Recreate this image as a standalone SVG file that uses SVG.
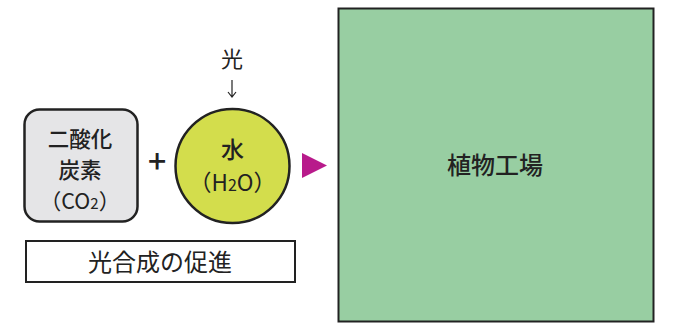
<svg xmlns="http://www.w3.org/2000/svg" width="680" height="323" viewBox="0 0 680 323">
<style>
text{font-family:"Noto Sans CJK JP","Noto Sans",sans-serif;fill:#222;text-anchor:middle}
.b{font-weight:500}
.box{stroke:#222;stroke-width:2.5}
</style>
<rect width="680" height="323" fill="#fff"/>
<g id="factory">
<rect x="338.5" y="8.5" width="315" height="313" fill="#98cea2" stroke="#222" stroke-width="2"/>
<text x="495" y="174" font-size="24" class="b">植物工場</text>
</g>
<g id="co2">
<rect x="24.5" y="109.5" width="113" height="112" rx="15" fill="#e5e5e7" class="box"/>
<text x="80" y="147" font-size="21.5" class="b">二酸化</text>
<text x="80" y="178" font-size="21.5" class="b">炭素</text>
<text x="80" y="209" font-size="21.5">（CO<tspan font-size="15">2</tspan>）</text>
</g>
<g id="water">
<circle cx="232.5" cy="166" r="57" fill="#d3dd4c" class="box"/>
<text x="232.5" y="158" font-size="23" class="b">水</text>
<text x="232.5" y="191" font-size="22.5">（H<tspan font-size="16">2</tspan>O）</text>
</g>
<g id="light">
<text x="232" y="67" font-size="22">光</text>
</g>
<g id="promote">
<rect x="26" y="241" width="269" height="41" fill="#fff" stroke="#222" stroke-width="2"/>
<text x="160" y="271" font-size="24">光合成の促進</text>
</g>
<g id="connectors">
<text x="157" y="173" font-size="32" class="b">+</text>
<path d="M232 80V97M228 92l4 5 4-5" fill="none" stroke="#222" stroke-width="1.2"/>
<path d="M302 153L327 165.5L302 178Z" fill="#b81a8b"/>
</g>
</svg>
